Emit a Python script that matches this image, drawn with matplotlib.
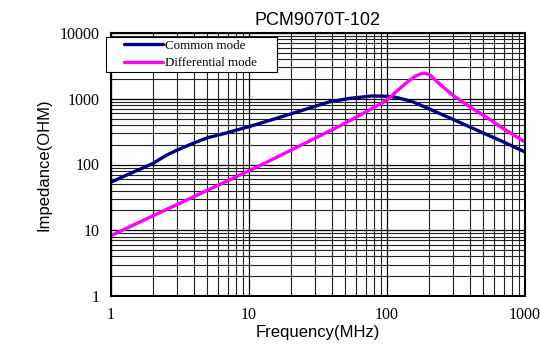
import numpy as np
import matplotlib
matplotlib.use("Agg")
import matplotlib.pyplot as plt
from matplotlib.ticker import LogLocator, FixedLocator, FixedFormatter, NullFormatter
from matplotlib.legend_handler import HandlerLine2D

# Common mode impedance (MHz, ohm)
cm_freq = [1, 1.44, 2, 2.5, 3, 4, 5, 7, 11.6, 20, 38.6, 54, 77.5, 95, 114, 151, 200, 300, 400, 500, 700, 1000]
cm_imp = [54, 76, 103, 137, 165, 213, 255, 305, 413, 586, 902, 1016, 1100, 1095, 1060, 915, 707, 487, 371, 300, 220, 155]

# Differential mode impedance (MHz, ohm)
dm_freq = [1, 11.6, 48, 94, 105, 114, 127, 143, 160, 176, 190, 205, 235, 300, 400, 500, 700, 1000]
dm_imp = [8.3, 93, 408, 880, 1040, 1230, 1500, 1850, 2200, 2400, 2440, 2300, 1750, 1130, 750, 560, 350, 220]

xticks = [1, 10, 100, 1000]
yticks = [1, 10, 100, 1000, 10000]

fig = plt.figure(figsize=(5.4, 3.45), dpi=100)
ax = fig.add_axes([111 / 540, 1 - 296 / 345, (525 - 111) / 540, (296 - 33) / 345])

ax.set_xscale("log")
ax.set_yscale("log")
ax.set_xlim(1, 1000)
ax.set_ylim(1, 10000)

ax.plot(cm_freq, cm_imp, color="#000080", lw=2.4, label="Common mode",
        solid_capstyle="round", solid_joinstyle="round")
ax.plot(dm_freq, dm_imp, color="#ff00ff", lw=2.4, label="Differential mode",
        solid_capstyle="round", solid_joinstyle="round")

ax.xaxis.set_major_locator(FixedLocator(xticks))
ax.xaxis.set_major_formatter(FixedFormatter([str(v) for v in xticks]))
ax.yaxis.set_major_locator(FixedLocator(yticks))
ax.yaxis.set_major_formatter(FixedFormatter([str(v) for v in yticks]))
ax.xaxis.set_minor_locator(LogLocator(base=10, subs=np.arange(2, 10), numticks=20))
ax.yaxis.set_minor_locator(LogLocator(base=10, subs=np.arange(2, 10), numticks=20))
ax.xaxis.set_minor_formatter(NullFormatter())
ax.yaxis.set_minor_formatter(NullFormatter())

ax.grid(True, which="major", color="black", lw=0.9)
ax.grid(True, which="minor", color="#222222", lw=0.8)
ax.set_axisbelow(True)
ax.tick_params(axis="x", which="both", length=0, pad=8)
ax.tick_params(axis="y", which="both", length=0, pad=8)
for lab in ax.get_xticklabels() + ax.get_yticklabels():
    lab.set_family("Liberation Serif")
    lab.set_fontsize(11.5)
for sp in ax.spines.values():
    sp.set_linewidth(1.5)

ax.set_title("PCM9070T-102", family="Liberation Sans", fontsize=13, pad=5.5)
ax.set_xlabel("Frequency(MHz)", family="Liberation Sans", fontsize=12, labelpad=1)
ax.set_ylabel("Impedance(OHM)", family="Liberation Sans", fontsize=12, labelpad=6)

# legend box: pixels 106..277 wide, 37..73 tall
lx0 = (106 - 111) / 414
lx1 = (277 - 111) / 414
leg = ax.legend(loc="upper left", bbox_to_anchor=(lx0, 0.0, lx1 - lx0, 1 - 4 / 263),
                mode="expand", fancybox=False, framealpha=1, edgecolor="black",
                borderpad=0.2, handlelength=4.2, handletextpad=0.15, labelspacing=0.4,
                borderaxespad=0, prop={"family": "Liberation Serif", "size": 9.4},
                handler_map={matplotlib.lines.Line2D: HandlerLine2D(xpad=1.2)})
leg.get_frame().set_linewidth(0.8)

fig.savefig("out.png", dpi=100)
